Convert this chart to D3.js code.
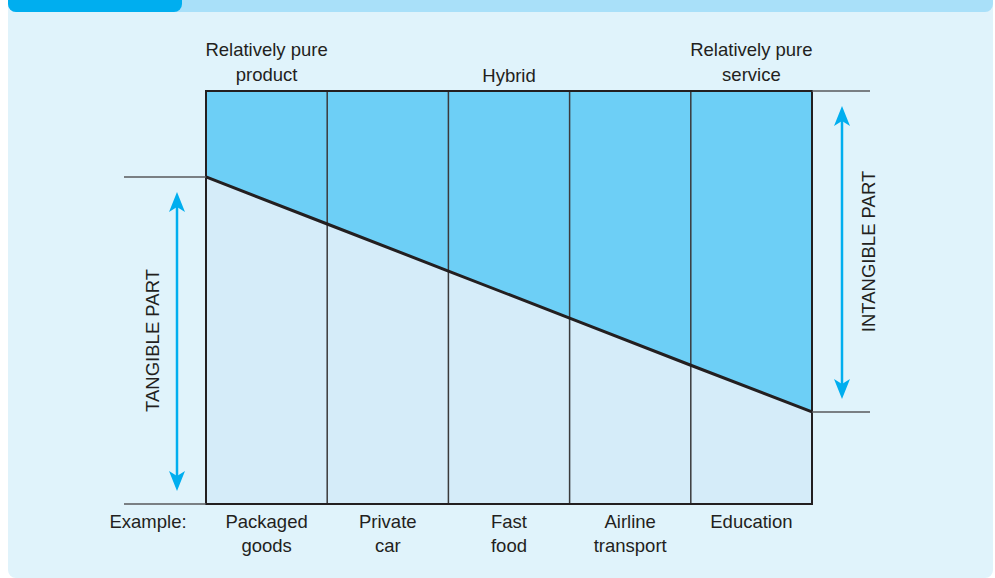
<!DOCTYPE html>
<html>
<head>
<meta charset="utf-8">
<script src="https://cdn.jsdelivr.net/npm/d3@7"></script>
<style>
  body { margin: 0; background: #fff; }
  text { font-family: "Liberation Sans", Arial, sans-serif; fill: #231f20; }
</style>
</head>
<body>
<svg></svg>
<script>
var width = 995;
var height = 578;

// examples along the product-service continuum
var categories = ['Packaged goods', 'Private car', 'Fast food', 'Airline transport', 'Education'];
var categoryLines = [['Packaged', 'goods'], ['Private', 'car'], ['Fast', 'food'], ['Airline', 'transport'], ['Education']];
// tangible share (%) at each column boundary, left to right
var tangibleShare = [79.2, 67.8, 56.4, 45.0, 33.6, 22.3];
var topLabels = [
  { lines: ['Relatively pure', 'product'], at: 0 },
  { lines: ['Hybrid'], at: 2 },
  { lines: ['Relatively pure', 'service'], at: 4 }
];

var plotLeft = 206, plotRight = 812, plotTop = 91, plotBottom = 504;
var fontSize = '18.5px';

var xScale = d3.scaleBand()
  .domain(categories)
  .range([plotLeft, plotRight])
  .paddingInner(0)
  .paddingOuter(0);

var edgeScale = d3.scaleLinear()
  .domain([0, categories.length])
  .range([plotLeft, plotRight]);

var yScale = d3.scaleLinear()
  .domain([0, 100])
  .range([plotBottom, plotTop]);

var svg = d3.select('svg')
  .attr('width', width)
  .attr('height', height);

// panel background
svg.append('rect')
  .attr('x', 8).attr('y', -10)
  .attr('width', 985).attr('height', 588)
  .attr('rx', 8)
  .attr('fill', '#e0f3fb');

// header strip and tab
svg.append('rect')
  .attr('x', 8).attr('y', -10)
  .attr('width', 985).attr('height', 22)
  .attr('rx', 8)
  .attr('fill', '#a9e0f9');
svg.append('rect')
  .attr('x', 8).attr('y', -10)
  .attr('width', 174).attr('height', 22)
  .attr('rx', 8)
  .attr('fill', '#00aeef');

var boundaries = d3.range(categories.length + 1);

// intangible (upper) area
var upperArea = d3.area()
  .x(d => edgeScale(d))
  .y0(d => yScale(tangibleShare[d]))
  .y1(yScale(100));

svg.append('path')
  .datum(boundaries)
  .attr('d', upperArea)
  .attr('fill', '#6dcff6');

// tangible (lower) area
var lowerArea = d3.area()
  .x(d => edgeScale(d))
  .y0(yScale(0))
  .y1(d => yScale(tangibleShare[d]));

svg.append('path')
  .datum(boundaries)
  .attr('d', lowerArea)
  .attr('fill', '#d5ecf9');

// column dividers
svg.selectAll('.divider')
  .data(boundaries.slice(1, -1))
  .enter()
  .append('line')
  .attr('class', 'divider')
  .attr('x1', d => edgeScale(d)).attr('x2', d => edgeScale(d))
  .attr('y1', yScale(100)).attr('y2', yScale(0))
  .attr('stroke', '#3a3a3c')
  .attr('stroke-width', 1.5);

// outer frame
svg.append('rect')
  .attr('x', plotLeft).attr('y', plotTop)
  .attr('width', plotRight - plotLeft).attr('height', plotBottom - plotTop)
  .attr('fill', 'none')
  .attr('stroke', '#231f20')
  .attr('stroke-width', 2);

// boundary line
svg.append('path')
  .datum(boundaries)
  .attr('d', d3.line().x(d => edgeScale(d)).y(d => yScale(tangibleShare[d])))
  .attr('fill', 'none')
  .attr('stroke', '#231f20')
  .attr('stroke-width', 3);

// guide lines outside the frame
var first = tangibleShare[0];
var last = tangibleShare[tangibleShare.length - 1];
var guides = [
  { x1: 124, x2: plotLeft, y: yScale(first) },
  { x1: 124, x2: plotLeft, y: yScale(0) },
  { x1: plotRight, x2: 870, y: yScale(100) },
  { x1: plotRight, x2: 870, y: yScale(last) }
];
svg.selectAll('.guide')
  .data(guides)
  .enter()
  .append('line')
  .attr('x1', d => d.x1).attr('x2', d => d.x2)
  .attr('y1', d => d.y).attr('y2', d => d.y)
  .attr('stroke', '#58595b')
  .attr('stroke-width', 1.5);

// double-headed arrows
var arrowColor = '#00aeef';
function doubleArrow(x, y1, y2) {
  svg.append('line')
    .attr('x1', x).attr('x2', x)
    .attr('y1', y1 + 10).attr('y2', y2 - 10)
    .attr('stroke', arrowColor)
    .attr('stroke-width', 2.5);
  svg.append('path')
    .attr('d', `M${x},${y1} L${x - 8},${y1 + 20} L${x},${y1 + 15} L${x + 8},${y1 + 20} Z`)
    .attr('fill', arrowColor);
  svg.append('path')
    .attr('d', `M${x},${y2} L${x - 8},${y2 - 20} L${x},${y2 - 15} L${x + 8},${y2 - 20} Z`)
    .attr('fill', arrowColor);
}
doubleArrow(177, yScale(first) + 15, yScale(0) - 13);
doubleArrow(842, yScale(100) + 15, yScale(last) - 13);

// side labels
svg.append('text')
  .attr('transform', `translate(159, ${(yScale(first) + yScale(0)) / 2}) rotate(-90)`)
  .style('text-anchor', 'middle')
  .style('font-size', fontSize)
  .text('TANGIBLE PART');

svg.append('text')
  .attr('transform', `translate(875, ${(yScale(100) + yScale(last)) / 2}) rotate(-90)`)
  .style('text-anchor', 'middle')
  .style('font-size', fontSize)
  .text('INTANGIBLE PART');

// top labels
topLabels.forEach(function (t) {
  var cx = xScale(categories[t.at]) + xScale.bandwidth() / 2;
  var startY = t.lines.length === 1 ? 82 : 56;
  var txt = svg.append('text')
    .attr('x', cx)
    .style('text-anchor', 'middle')
    .style('font-size', fontSize);
  t.lines.forEach(function (line, i) {
    txt.append('tspan')
      .attr('x', cx)
      .attr('y', startY + i * 25)
      .text(line);
  });
});

// bottom example labels
svg.append('text')
  .attr('x', 148)
  .attr('y', 528)
  .style('text-anchor', 'middle')
  .style('font-size', fontSize)
  .text('Example:');

svg.selectAll('.cat')
  .data(categories)
  .enter()
  .append('text')
  .attr('class', 'cat')
  .style('text-anchor', 'middle')
  .style('font-size', fontSize)
  .each(function (d, i) {
    var cx = xScale(d) + xScale.bandwidth() / 2;
    categoryLines[i].forEach(function (line, j) {
      d3.select(this).append('tspan')
        .attr('x', cx)
        .attr('y', 528 + j * 24)
        .text(line);
    }, this);
  });
</script>
</body>
</html>
